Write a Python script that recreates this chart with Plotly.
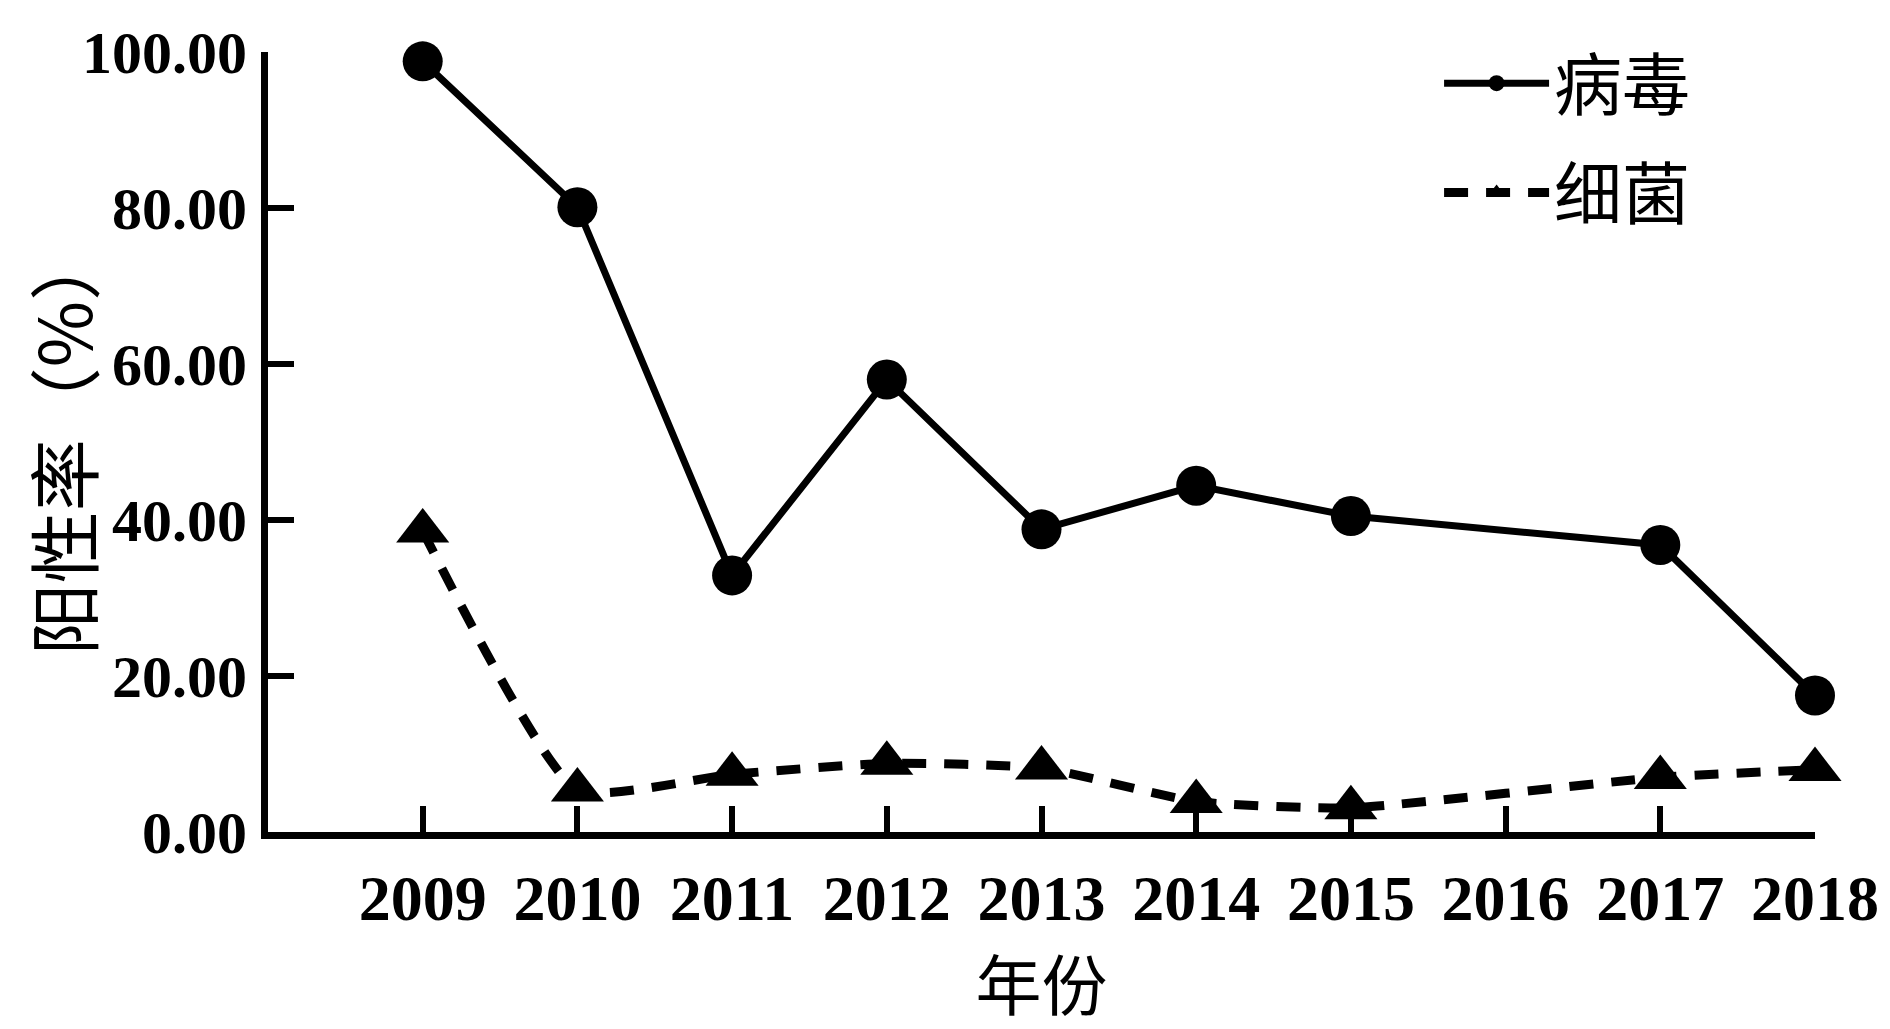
import plotly.graph_objects as go

years = [2009, 2010, 2011, 2012, 2013, 2014, 2015, 2016, 2017, 2018]
year_labels = [str(y) for y in years]
virus = [98.8, 80.1, 32.9, 58.0, 38.8, 44.4, 40.5, None, 36.8, 17.5]
bacteria = [38.6, 5.4, 7.4, 8.8, 8.2, 3.9, 3.1, None, 7.0, 8.0]
y_ticks = [0, 20, 40, 60, 80, 100]

fig = go.Figure()
fig.add_trace(go.Scatter(
    x=years, y=virus, name="病毒", mode="lines+markers", connectgaps=True,
    line=dict(color="black", width=7),
    marker=dict(symbol="circle", size=40, color="black"),
    cliponaxis=False, legendgroup="a",
))
fig.add_trace(go.Scatter(
    x=years, y=bacteria, name="细菌", mode="lines+markers", connectgaps=True,
    line=dict(color="black", width=9, dash="24px,18px", shape="spline", smoothing=0.5),
    marker=dict(symbol="triangle-up", size=46, color="black"),
    cliponaxis=False, legendgroup="b",
))

fig.update_layout(
    width=1882, height=1021,
    paper_bgcolor="white", plot_bgcolor="white",
    margin=dict(l=260, r=75, t=44, b=197, autoexpand=False),
    font=dict(family="Liberation Serif", color="black"),
    showlegend=True,
    legend=dict(
        x=0.757, y=1.025, xanchor="left", yanchor="top",
        font=dict(family="Noto Sans CJK SC", size=68, color="black"),
        traceorder="grouped", tracegroupgap=18,
        itemwidth=105, bgcolor="rgba(0,0,0,0)",
    ),
    xaxis=dict(
        range=[2008, 2018], tickvals=years, ticktext=year_labels,
        showline=True, linecolor="black", linewidth=7,
        ticks="inside", ticklen=26, tickwidth=6, tickcolor="black",
        showgrid=False, zeroline=False, automargin=False,
        tickfont=dict(family="Liberation Serif", size=64, color="black", weight="bold"),
        ticklabelstandoff=4,
        title=dict(text="年份", font=dict(family="Noto Sans CJK SC", size=66, color="black"), standoff=22),
    ),
    yaxis=dict(
        range=[0, 100], tickvals=y_ticks, tickformat=".2f",
        showline=True, linecolor="black", linewidth=7,
        ticks="inside", ticklen=26, tickwidth=6, tickcolor="black",
        showgrid=False, zeroline=False, automargin=False,
        tickfont=dict(family="Liberation Serif", size=60, color="black", weight="bold"),
        ticklabelstandoff=2,
        title=dict(text="阳性率（%）", font=dict(family="Noto Sans CJK SC", size=72, color="black"), standoff=4),
    ),
)

fig.write_html("out.html")
